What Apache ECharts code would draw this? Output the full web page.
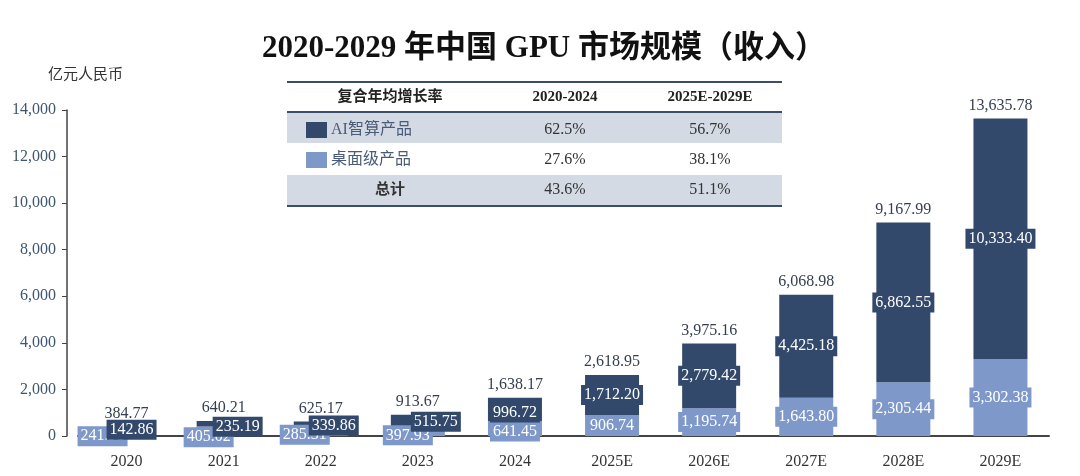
<!DOCTYPE html>
<html>
<head>
<meta charset="utf-8">
<script src="https://cdn.jsdelivr.net/npm/echarts@6/dist/echarts.min.js"></script>
<style>
  html, body { margin: 0; padding: 0; background: #fff; }
  #main { width: 1080px; height: 476px; }
</style>
</head>
<body>
<div id="main"></div>
<script>
// chart data (亿元人民币)
const years = ['2020', '2021', '2022', '2023', '2024', '2025E', '2026E', '2027E', '2028E', '2029E'];
const desktopValues = [241.91, 405.02, 285.31, 397.93, 641.45, 906.74, 1195.74, 1643.80, 2305.44, 3302.38];
const aiValues = [142.86, 235.19, 339.86, 515.75, 996.72, 1712.20, 2779.42, 4425.18, 6862.55, 10333.40];
const totalValues = [384.77, 640.21, 625.17, 913.67, 1638.17, 2618.95, 3975.16, 6068.98, 9167.99, 13635.78];
const yTicks = [0, 2000, 4000, 6000, 8000, 10000, 12000, 14000];

// CAGR table
const cagrHeader = ['复合年均增长率', '2020-2024', '2025E-2029E'];
const cagrRowNames = ['AI智算产品', '桌面级产品', '总计'];
const cagrFirst = ['62.5%', '27.6%', '43.6%'];
const cagrSecond = ['56.7%', '38.1%', '51.1%'];

const DARK = '#33496b';
const LIGHT = '#7e99c9';
const SERIF = "'Liberation Serif', 'Noto Sans CJK SC', serif";

// labels of the tiny early bars are nudged apart like in the source
const lightNudge = [[-24, 3], [-15, 6], [-16, 2], [-10, 4], [0, 3]];
const darkNudge = [[5, 1], [14, 3], [13, 0], [18, 1], [0, 3]];

const fmt = v => v.toLocaleString('en-US', { minimumFractionDigits: 2, maximumFractionDigits: 2 });

function withNudge(values, nudge) {
    return values.map((v, i) => nudge[i] ? { value: v, label: { offset: nudge[i] } } : v);
}

function segLabel(bg) {
    return {
        show: true,
        position: 'inside',
        formatter: p => fmt(p.value),
        color: '#fff',
        fontFamily: SERIF,
        fontSize: 16,
        backgroundColor: bg,
        padding: [2, 3]
    };
}

// table built as graphic elements
const tLeft = 287, tWidth = 495;
const colX = [390, 565, 710];
const rowY = [130, 160, 190];
const graphics = [
    { type: 'rect', shape: { x: tLeft, y: 112, width: tWidth, height: 31 }, style: { fill: '#d3dae4' } },
    { type: 'rect', shape: { x: tLeft, y: 175, width: tWidth, height: 30 }, style: { fill: '#d3dae4' } },
    { type: 'line', shape: { x1: tLeft, y1: 82, x2: tLeft + tWidth, y2: 82 }, style: { stroke: '#3b4e69', lineWidth: 2 } },
    { type: 'line', shape: { x1: tLeft, y1: 112, x2: tLeft + tWidth, y2: 112 }, style: { stroke: '#3b4e69', lineWidth: 2 } },
    { type: 'line', shape: { x1: tLeft, y1: 206, x2: tLeft + tWidth, y2: 206 }, style: { stroke: '#3b4e69', lineWidth: 2 } }
];
cagrHeader.forEach((t, i) => {
    graphics.push({ type: 'text', x: colX[i], y: 97, style: { text: t, font: 'bold 15px ' + SERIF, fill: '#222', textAlign: 'center', textVerticalAlign: 'middle' } });
});
cagrRowNames.forEach((t, i) => {
    if (i < 2) {
        graphics.push({ type: 'rect', shape: { x: 306, y: rowY[i] - 8, width: 21, height: 16 }, style: { fill: i === 0 ? DARK : LIGHT } });
        graphics.push({ type: 'text', x: 331, y: rowY[i], style: { text: t, font: '16px ' + SERIF, fill: '#4a5b78', textAlign: 'left', textVerticalAlign: 'middle' } });
    } else {
        graphics.push({ type: 'text', x: colX[0], y: rowY[i], style: { text: t, font: 'bold 15px ' + SERIF, fill: '#333', textAlign: 'center', textVerticalAlign: 'middle' } });
    }
    graphics.push({ type: 'text', x: colX[1], y: rowY[i], style: { text: cagrFirst[i], font: '16px ' + SERIF, fill: '#333', textAlign: 'center', textVerticalAlign: 'middle' } });
    graphics.push({ type: 'text', x: colX[2], y: rowY[i], style: { text: cagrSecond[i], font: '16px ' + SERIF, fill: '#333', textAlign: 'center', textVerticalAlign: 'middle' } });
});

const chart = echarts.init(document.getElementById('main'));
chart.setOption({
    animation: false,
    title: {
        text: '2020-2029 年中国 GPU 市场规模（收入）',
        left: 257,
        top: 28,
        textStyle: { fontFamily: SERIF, fontSize: 31, fontWeight: 'bold', color: '#111' }
    },
    grid: { left: 78, right: 31, top: 110, bottom: 40 },
    xAxis: {
        type: 'category',
        data: years,
        axisLine: { lineStyle: { color: '#444', width: 2 } },
        axisTick: { show: false },
        axisLabel: { color: '#333', fontFamily: SERIF, fontSize: 16, margin: 18 }
    },
    yAxis: {
        type: 'value',
        min: yTicks[0],
        max: yTicks[yTicks.length - 1],
        interval: 2000,
        offset: 11,
        name: '亿元人民币',
        nameLocation: 'end',
        nameGap: 27,
        nameTextStyle: { color: '#333', fontFamily: SERIF, fontSize: 15, align: 'left', padding: [0, 0, 0, -19] },
        splitLine: { show: false },
        axisLine: { show: true, lineStyle: { color: '#444', width: 1.5 } },
        axisTick: { show: true, inside: false, length: 5, lineStyle: { color: '#444' } },
        axisLabel: {
            color: '#3f5670', fontFamily: SERIF, fontSize: 16, margin: 11,
            formatter: v => v.toLocaleString('en-US')
        }
    },
    graphic: graphics,
    series: [
        {
            name: '桌面级产品',
            type: 'bar',
            stack: 'gpu',
            barWidth: 54,
            barGap: '-100%',
            data: withNudge(desktopValues, lightNudge),
            itemStyle: { color: LIGHT },
            label: segLabel(LIGHT)
        },
        {
            name: 'AI智算产品',
            type: 'bar',
            stack: 'gpu',
            barWidth: 54,
            barGap: '-100%',
            data: withNudge(aiValues, darkNudge),
            itemStyle: { color: DARK },
            label: segLabel(DARK)
        },
        {
            name: '总计',
            type: 'bar',
            barWidth: 54,
            barGap: '-100%',
            z: 1,
            silent: true,
            data: totalValues,
            itemStyle: { color: 'rgba(0,0,0,0)' },
            label: {
                show: true,
                position: 'top',
                distance: 5,
                formatter: p => fmt(p.value),
                color: '#353f4f',
                fontFamily: SERIF,
                fontSize: 16
            }
        }
    ]
});
</script>
</body>
</html>
